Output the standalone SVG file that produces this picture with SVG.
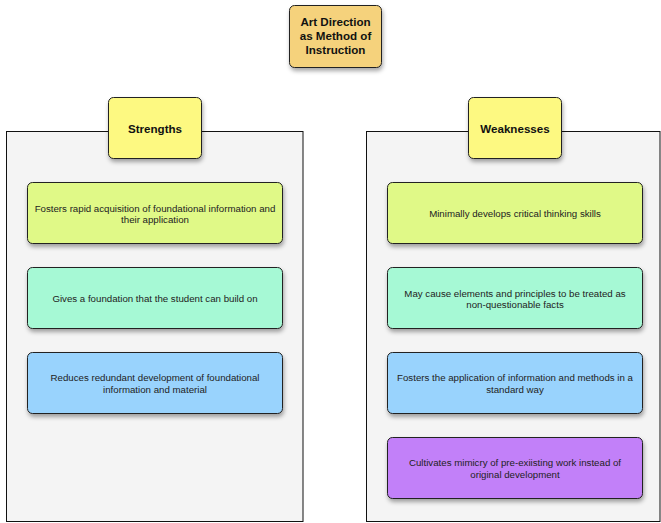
<svg xmlns="http://www.w3.org/2000/svg" width="661" height="523" viewBox="0 0 661 523">
<defs>
<filter id="sh" x="-10%" y="-10%" width="130%" height="140%">
<feDropShadow dx="1" dy="3" stdDeviation="2" flood-color="#000" flood-opacity="0.35"/>
</filter>
</defs>
<style>
.panel{fill:#f4f4f4;stroke:#111;stroke-width:1}
.box{stroke:#222;stroke-width:1;filter:url(#sh)}
.hd{font-family:"Liberation Sans",Arial,sans-serif;font-weight:bold;font-size:11.6px;fill:#111;text-anchor:middle}
.tx{font-family:"Liberation Sans",Arial,sans-serif;font-size:9.7px;fill:#222;text-anchor:middle}
</style>
<rect width="661" height="523" fill="#fff"/>
<g id="panel-strengths"><rect class="panel" x="6.5" y="131.5" width="296.5" height="390"/></g>
<g id="panel-weaknesses"><rect class="panel" x="366.5" y="131.5" width="293.5" height="390"/></g>
<g id="connectors"></g>
<g id="title">
<rect class="box" x="289.5" y="5.5" width="92" height="62" rx="5" fill="#f5d27c"/>
<text class="hd" x="335.5" y="26">Art Direction</text>
<text class="hd" x="335.5" y="40">as Method of</text>
<text class="hd" x="335.5" y="54">Instruction</text>
</g>
<g id="strengths">
<rect class="box" x="108.5" y="97.5" width="93" height="61" rx="5" fill="#fdf981"/>
<text class="hd" x="155" y="133">Strengths</text>
</g>
<g id="weaknesses">
<rect class="box" x="468.5" y="97.5" width="93" height="61" rx="5" fill="#fdf981"/>
<text class="hd" x="515" y="133">Weaknesses</text>
</g>
<g id="s1">
<rect class="box" x="27.5" y="182.5" width="255" height="61" rx="5" fill="#e0f987"/>
<text class="tx" x="155" y="211.5">Fosters rapid acquisition of foundational information and</text>
<text class="tx" x="155" y="222.5">their application</text>
</g>
<g id="s2">
<rect class="box" x="27.5" y="267.5" width="255" height="61" rx="5" fill="#a6f9d5"/>
<text class="tx" x="155" y="302">Gives a foundation that the student can build on</text>
</g>
<g id="s3">
<rect class="box" x="27.5" y="352.5" width="255" height="61" rx="5" fill="#99d3fd"/>
<text class="tx" x="155" y="381">Reduces redundant development of foundational</text>
<text class="tx" x="155" y="392.5">information and material</text>
</g>
<g id="w1">
<rect class="box" x="387.5" y="182.5" width="255" height="61" rx="5" fill="#e0f987"/>
<text class="tx" x="515" y="217">Minimally develops critical thinking skills</text>
</g>
<g id="w2">
<rect class="box" x="387.5" y="267.5" width="255" height="61" rx="5" fill="#a6f9d5"/>
<text class="tx" x="515" y="296.5">May cause elements and principles to be treated as</text>
<text class="tx" x="515" y="308">non-questionable facts</text>
</g>
<g id="w3">
<rect class="box" x="387.5" y="352.5" width="255" height="61" rx="5" fill="#99d3fd"/>
<text class="tx" x="515" y="381">Fosters the application of information and methods in a</text>
<text class="tx" x="515" y="392.5">standard way</text>
</g>
<g id="w4">
<rect class="box" x="387.5" y="437.5" width="255" height="61" rx="5" fill="#c280f9"/>
<text class="tx" x="515" y="466">Cultivates mimicry of pre-exiisting work instead of</text>
<text class="tx" x="515" y="477.5">original development</text>
</g>
</svg>
